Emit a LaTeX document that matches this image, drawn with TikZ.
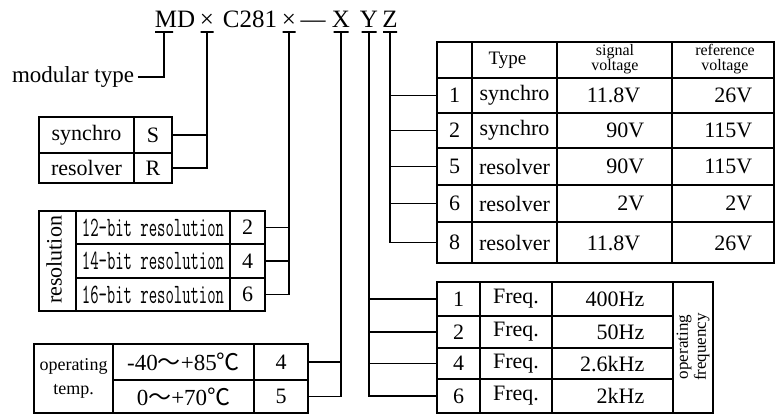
\documentclass[tikz,border=0pt]{standalone}
\usepackage{fontspec}
\usepackage{graphicx}
\setmainfont{Liberation Serif}
\newfontfamily\cjk{Noto Sans CJK SC}
\newcommand{\condtt}[1]{\scalebox{0.58}[1]{\fontsize{28}{30}\selectfont\ttfamily #1}}
\begin{document}
\begin{tikzpicture}[x=1pt,y=-1pt,line width=1.3pt,
  cell/.style={draw, anchor=north west, inner sep=0pt, outer sep=0pt, font=\fontsize{22}{24}\selectfont},
  tick/.style={draw, inner sep=0pt, outer sep=0pt, minimum height=0pt},
  txt/.style={inner sep=0pt, font=\fontsize{22}{24}\selectfont},
  title/.style={inner sep=0pt, anchor=base, font=\fontsize{25}{27}\selectfont},
  small/.style={inner sep=0pt, align=center, font=\fontsize{16}{14.5}\selectfont},
  conn/.style={draw}]
\useasboundingbox (0,0) rectangle (775,414);

% title
\node[title] (tmd) at (175,28) {MD};
\node[title] (tx1) at (207,28) {×};
\node[title] (tc) at (250,28) {C281};
\node[title] (tx2) at (289,28) {×};
\node[title] (tdash) at (313,28) {—};
\node[title] (tX) at (341,28) {X};
\node[title] (tY) at (369,28) {Y};
\node[title] (tZ) at (390,28) {Z};

% ticks
\node[tick, minimum width=18pt] (kMD) at (164,32) {};
\node[tick, minimum width=13pt] (kA) at (207,32) {};
\node[tick, minimum width=13pt] (kB) at (289,32) {};
\node[tick, minimum width=15pt] (kX) at (341,32) {};
\node[tick, minimum width=15pt] (kY) at (369,32) {};
\node[tick, minimum width=14pt] (kZ) at (390,32) {};

% modular type
\node[txt, font=\fontsize{23}{25}\selectfont] (mt) at (73,77) {modular type};

% synchro / resolver
\node[cell, minimum width=95pt, minimum height=36pt] (ssyn) at (39,117) {synchro};
\node[cell, minimum width=38pt, minimum height=36pt] (sS) at (134,117) {S};
\node[cell, minimum width=95pt, minimum height=30pt] (sres) at (39,153) {resolver};
\node[cell, minimum width=38pt, minimum height=30pt] (sR) at (134,153) {R};

% resolution
\node[cell, minimum width=37pt, minimum height=100pt] (rlab) at (39,211) {};
\node[txt, rotate=90, font=\fontsize{22}{24}\selectfont] (rlabt) at (54,260) {resolution};
\node[cell, minimum width=154pt, minimum height=33pt] (r12) at (76,211) {\condtt{12-bit resolution}};
\node[cell, minimum width=35pt, minimum height=33pt] (r2) at (230,211) {2};
\node[cell, minimum width=154pt, minimum height=34pt] (r14) at (76,244) {\condtt{14-bit resolution}};
\node[cell, minimum width=35pt, minimum height=34pt] (r4) at (230,244) {4};
\node[cell, minimum width=154pt, minimum height=33pt] (r16) at (76,278) {\condtt{16-bit resolution}};
\node[cell, minimum width=35pt, minimum height=33pt] (r6) at (230,278) {6};

% operating temp
\node[cell, minimum width=79pt, minimum height=69pt, align=center, font=\fontsize{18}{24}\selectfont] (tlab) at (34,344) {operating\\temp.};
\node[cell, minimum width=141pt, minimum height=36pt, font=\fontsize{23}{25}\selectfont] (t40) at (113,344) {-40{\cjk ～}+85{\cjk ℃}};
\node[cell, minimum width=54pt, minimum height=36pt] (c4) at (254,344) {4};
\node[cell, minimum width=141pt, minimum height=33pt, font=\fontsize{23}{25}\selectfont] (t0) at (113,380) {0{\cjk ～}+70{\cjk ℃}};
\node[cell, minimum width=54pt, minimum height=33pt] (c5) at (254,380) {5};

% type table header
\node[cell, minimum width=35pt, minimum height=36pt] (h0) at (437,42) {};
\node[cell, minimum width=85pt, minimum height=36pt, font=\fontsize{19}{21}\selectfont] (h1) at (472,42) {Type\hspace*{14pt}};
\node[cell, minimum width=115pt, minimum height=36pt] (h2) at (557,42) {};
\node[cell, minimum width=102pt, minimum height=36pt] (h3) at (672,42) {};
\node[small] (h2t) at (615,59) {signal\\voltage};
\node[small] (h3t) at (725,59) {reference\\voltage};

% type table rows
\node[cell, minimum width=35pt, minimum height=35pt] (n1) at (437,78) {1};
\node[cell, minimum width=85pt, minimum height=35pt] (y1) at (472,78) {synchro};
\node[cell, minimum width=115pt, minimum height=35pt] (s1) at (557,78) {};
\node[cell, minimum width=102pt, minimum height=35pt] (v1) at (672,78) {};
\node[txt, anchor=east] (s1t) at (641,95) {11.8V};
\node[txt, anchor=east] (v1t) at (753,95) {26V};

\node[cell, minimum width=35pt, minimum height=35pt] (n2) at (437,113) {2};
\node[cell, minimum width=85pt, minimum height=35pt] (y2) at (472,113) {synchro};
\node[cell, minimum width=115pt, minimum height=35pt] (s2) at (557,113) {};
\node[cell, minimum width=102pt, minimum height=35pt] (v2) at (672,113) {};
\node[txt, anchor=east] (s2t) at (645,130) {90V};
\node[txt, anchor=east] (v2t) at (753,130) {115V};

\node[cell, minimum width=35pt, minimum height=37pt] (n5) at (437,148) {5};
\node[cell, minimum width=85pt, minimum height=37pt] (y5) at (472,148) {resolver};
\node[cell, minimum width=115pt, minimum height=37pt] (s5) at (557,148) {};
\node[cell, minimum width=102pt, minimum height=37pt] (v5) at (672,148) {};
\node[txt, anchor=east] (s5t) at (645,166) {90V};
\node[txt, anchor=east] (v5t) at (753,166) {115V};

\node[cell, minimum width=35pt, minimum height=37pt] (n6) at (437,185) {6};
\node[cell, minimum width=85pt, minimum height=37pt] (y6) at (472,185) {resolver};
\node[cell, minimum width=115pt, minimum height=37pt] (s6) at (557,185) {};
\node[cell, minimum width=102pt, minimum height=37pt] (v6) at (672,185) {};
\node[txt, anchor=east] (s6t) at (645,203) {2V};
\node[txt, anchor=east] (v6t) at (753,203) {2V};

\node[cell, minimum width=35pt, minimum height=41pt] (n8) at (437,222) {8};
\node[cell, minimum width=85pt, minimum height=41pt] (y8) at (472,222) {resolver};
\node[cell, minimum width=115pt, minimum height=41pt] (s8) at (557,222) {};
\node[cell, minimum width=102pt, minimum height=41pt] (v8) at (672,222) {};
\node[txt, anchor=east] (s8t) at (641,243) {11.8V};
\node[txt, anchor=east] (v8t) at (753,243) {26V};

% frequency table
\node[cell, minimum width=43pt, minimum height=34pt] (f1) at (437,282) {1};
\node[cell, minimum width=72pt, minimum height=34pt] (q1) at (480,282) {Freq.};
\node[cell, minimum width=121pt, minimum height=34pt] (g1) at (552,282) {};
\node[txt, anchor=east] (g1t) at (645,299) {400Hz};
\node[cell, minimum width=43pt, minimum height=32pt] (f2) at (437,316) {2};
\node[cell, minimum width=72pt, minimum height=32pt] (q2) at (480,316) {Freq.};
\node[cell, minimum width=121pt, minimum height=32pt] (g2) at (552,316) {};
\node[txt, anchor=east] (g2t) at (645,332) {50Hz};
\node[cell, minimum width=43pt, minimum height=31pt] (f4) at (437,348) {4};
\node[cell, minimum width=72pt, minimum height=31pt] (q4) at (480,348) {Freq.};
\node[cell, minimum width=121pt, minimum height=31pt] (g4) at (552,348) {};
\node[txt, anchor=east] (g4t) at (645,364) {2.6kHz};
\node[cell, minimum width=43pt, minimum height=34pt] (f6) at (437,379) {6};
\node[cell, minimum width=72pt, minimum height=34pt] (q6) at (480,379) {Freq.};
\node[cell, minimum width=121pt, minimum height=34pt] (g6) at (552,379) {};
\node[txt, anchor=east] (g6t) at (645,396) {2kHz};
\node[cell, minimum width=40pt, minimum height=131pt] (flab) at (673,282) {};
\node[small, rotate=90, font=\fontsize{17}{18}\selectfont] (flabt) at (693,347) {operating\\frequency};

% connectors
\draw (mt.east) ++(3,0) -| (kMD.center);
\draw (sS.east) -- (sS.east -| kA.center);
\draw (sR.east) -| (kA.center);
\draw (r2.east) -- (r2.east -| kB.center);
\draw (r4.east) -- (r4.east -| kB.center);
\draw (r6.east) -| (kB.center);
\draw (c4.east) -- (c4.east -| kX.center);
\draw (c5.east) -| (kX.center);
\draw (f1.west) -- (f1.west -| kY.center);
\draw (f2.west) -- (f2.west -| kY.center);
\draw (f4.west) -- (f4.west -| kY.center);
\draw (f6.west) -| (kY.center);
\draw (n1.west) -- (n1.west -| kZ.center);
\draw (n2.west) -- (n2.west -| kZ.center);
\draw (n5.west) -- (n5.west -| kZ.center);
\draw (n6.west) -- (n6.west -| kZ.center);
\draw (n8.west) -| (kZ.center);
\end{tikzpicture}
\end{document}
